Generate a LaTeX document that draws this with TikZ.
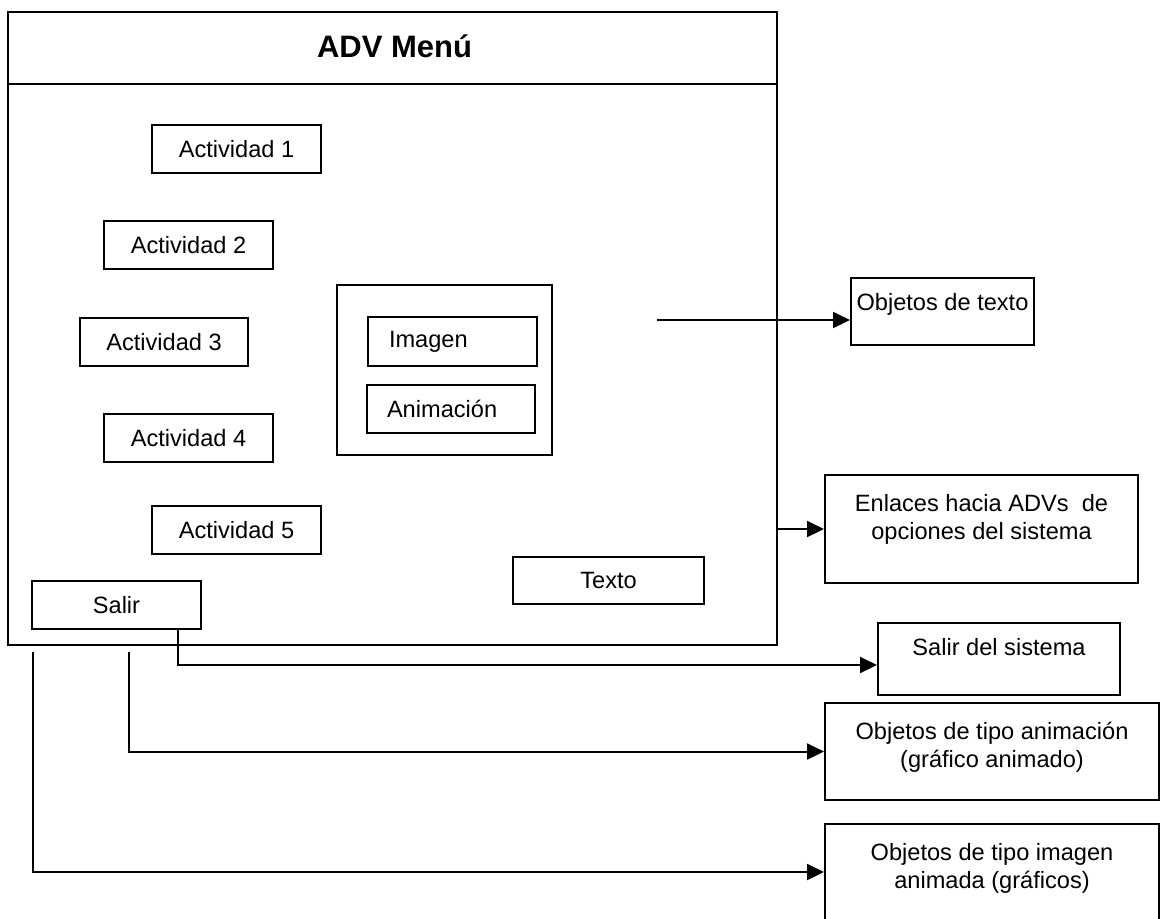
\documentclass[tikz,border=0pt]{standalone}
\usepackage{fontspec}
\setmainfont{Liberation Sans}
\usepackage{tikz}
\usetikzlibrary{positioning, calc, arrows.meta}

\tikzset{
  caja/.style={draw, line width=1pt, inner sep=0pt, font=\fontsize{11.8}{14}\selectfont},
  salida/.style={caja, align=center},
  arriba/.style={anchor=north, yshift=-8pt, align=center, inner sep=0pt, font=\fontsize{11.8}{14}\selectfont},
  flecha/.style={-{Triangle[length=8.5pt,width=8pt]}, line width=1pt}
}

\begin{document}
\begin{tikzpicture}[x=0.5pt, y=-0.5pt]
        \useasboundingbox (0,0) rectangle (1160,918);

        % Menu frame
        \node[caja, minimum width=384.5pt, minimum height=316.5pt] (marco) at (392.5,328.5) {};
        \draw[line width=1pt] (marco.west |- 0,84) -- (marco.east |- 0,84);
        \node[font=\fontsize{15.5}{18}\bfseries] (titulo) at (394.5,46) {ADV Menú};

        % Activities
        \node[caja, minimum width=84.5pt, minimum height=24pt] (act1) at (236.5,149) {Actividad 1};
        \node[caja, minimum width=84.5pt, minimum height=24pt] (act2) at (188.5,245) {Actividad 2};
        \node[caja, minimum width=84pt, minimum height=24pt] (act3) at (164,342) {Actividad 3};
        \node[caja, minimum width=84.5pt, minimum height=24pt] (act4) at (188.5,438) {Actividad 4};
        \node[caja, minimum width=84.5pt, minimum height=24pt] (act5) at (236.5,530) {Actividad 5};
        \node[caja, minimum width=84.5pt, minimum height=24pt] (salir) at (116.5,605) {Salir};

        % Media
        \node[caja, minimum width=107.5pt, minimum height=85pt] (medios) at (444.5,370) {};
        \node[caja, text width=63.5pt, minimum height=24.5pt, align=left, inner xsep=10.5pt] (imagen) at (452.5,341.5) {Imagen};
        \node[caja, text width=64pt, minimum height=24pt, align=left, inner xsep=10pt] (anima) at (451,409) {Animación};
        \node[caja, minimum width=95.5pt, minimum height=23.5pt] (texto) at (608.5,580.5) {Texto};

        % Outputs
        \node[salida, minimum width=91.5pt, minimum height=33.5pt,
              label={[arriba]north:Objetos de texto}] (objtexto) at (942.5,311.5) {};
        \node[salida, minimum width=156.5pt, minimum height=54pt,
              label={[arriba, yshift=-2pt]north:Enlaces hacia ADVs~ de\\opciones del sistema}] (enlaces) at (981.5,529) {};
        \node[salida, minimum width=121pt, minimum height=36pt,
              label={[arriba]north:Salir del sistema}] (salsis) at (999,659) {};
        \node[salida, minimum width=167pt, minimum height=48.5pt,
              label={[arriba, yshift=-2pt]north:Objetos de tipo animación\\(gráfico animado)}] (objanim) at (992,751.5) {};
        \node[salida, minimum width=167pt, minimum height=50pt,
              label={[arriba, yshift=-2pt]north:Objetos de tipo imagen\\animada (gráficos)}] (objimg) at (992,874) {};

        % Connectors
        \coordinate (txtini) at (657,320);
        \coordinate (animini) at (129,652);
        \coordinate (imgini) at (33,652);
        \draw[flecha] (txtini) -- (txtini -| objtexto.west);
        \draw[flecha] (marco.east |- enlaces.west) -- (enlaces.west);
        \draw[flecha] ($(salir.south east)+(-24,0)$) |- ([yshift=-3pt]salsis.west);
        \draw[flecha] (animini) |- (objanim.west);
        \draw[flecha] (imgini) |- ([yshift=1pt]objimg.west);
\end{tikzpicture}
\end{document}
